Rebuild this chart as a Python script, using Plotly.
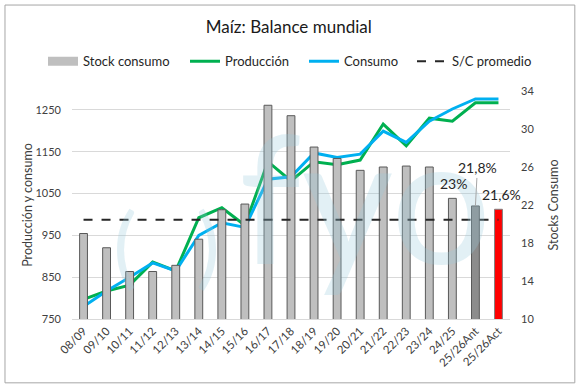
import plotly.graph_objects as go

categories = ["08/09", "09/10", "10/11", "11/12", "12/13", "13/14", "14/15", "15/16",
              "16/17", "17/18", "18/19", "19/20", "20/21", "21/22", "22/23", "23/24",
              "24/25", "25/26Ant", "25/26Act"]
stock_consumo = [19.0, 17.5, 15.0, 15.0, 15.65, 18.4, 21.5, 22.1, 32.5, 31.4, 28.1, 26.9,
                 25.65, 26.0, 26.1, 26.0, 22.7, 21.9, 21.55]
produccion = [797, 817, 831, 886, 865, 992, 1016, 974, 1126, 1080, 1126, 1119, 1130, 1216,
              1164, 1230, 1223, 1267, 1267]
consumo = [780, 817, 850, 884, 865, 950, 980, 969, 1084, 1090, 1147, 1136, 1144, 1199, 1172,
           1223, 1252, 1276, 1276]
sc_promedio = [20.45] * len(categories)

bar_colors = ["#BFBFBF"] * 17 + ["#8C8C8C", "#FF0000"]
bar_lines = ["#595959"] * 18 + ["#7F7F7F"]

FONT = "Lato, Roboto, sans-serif"
WM = "rgba(150,200,220,0.28)"

fig = go.Figure()
fig.add_trace(go.Bar(x=categories, y=stock_consumo, name="Stock consumo", yaxis="y2",
                     marker=dict(color=bar_colors, line=dict(color=bar_lines, width=1)),
                     width=0.34, legendgroup="stock", showlegend=False))
# legend swatch for the bars (wide grey box as in the reference)
fig.add_trace(go.Scatter(x=[None], y=[None], name="Stock consumo", mode="lines",
                         yaxis="y2", legendgroup="stock", legend="legend",
                         line=dict(color="#BFBFBF", width=9)))
fig.add_trace(go.Scatter(x=categories, y=produccion, name="Producción", mode="lines",
                         legend="legend2", line=dict(color="#00B050", width=3)))
fig.add_trace(go.Scatter(x=categories, y=consumo, name="Consumo", mode="lines",
                         legend="legend3", line=dict(color="#00B0F0", width=3)))
fig.add_trace(go.Scatter(x=categories, y=sc_promedio, name="S/C promedio", mode="lines",
                         yaxis="y2", legend="legend4",
                         line=dict(color="#262626", width=2, dash="dash")))

annotations = [
    dict(text="fyo", x=0.669, y=0.544, xref="paper", yref="paper", showarrow=False,
         font=dict(size=178, color=WM, family="Lato"), yanchor="middle", xanchor="center"),
    dict(text="(", x=0.121, y=0.333, xref="paper", yref="paper", showarrow=False,
         font=dict(size=90, color=WM, family="Lato"), yanchor="middle", xanchor="center"),
    dict(text=")", x=0.310, y=0.333, xref="paper", yref="paper", showarrow=False,
         font=dict(size=90, color=WM, family="Lato"), yanchor="middle", xanchor="center"),
    dict(text="23%", x=categories[16], y=stock_consumo[16], yref="y2", showarrow=False,
         yshift=15, xshift=1, font=dict(size=14, color="#262626", family=FONT)),
    dict(text="21,8%", x=categories[17], y=stock_consumo[17], yref="y2", showarrow=True,
         arrowhead=0, arrowwidth=1, arrowcolor="#A6A6A6", ax=2, ay=-38, standoff=0,
         font=dict(size=14, color="#262626", family=FONT)),
    dict(text="21,6%", x=categories[18], y=stock_consumo[18], yref="y2", showarrow=False,
         yshift=15, xshift=3, font=dict(size=14, color="#262626", family=FONT)),
]

PW = 438.0


def lx(px):
    return (px - 72) / PW


def legend_at(px):
    return dict(orientation="h", x=lx(px), xanchor="left", y=1.13, yanchor="middle",
                font=dict(size=13, color="#262626", family=FONT), itemwidth=30,
                bgcolor="rgba(0,0,0,0)", borderwidth=0)


fig.update_layout(
    width=581, height=389,
    margin=dict(l=72, r=71, t=91, b=70, autoexpand=False),
    paper_bgcolor="white", plot_bgcolor="white",
    font=dict(family=FONT, size=12, color="#404040"),
    title=dict(text="Maíz: Balance mundial", x=0.497, xanchor="center", y=0.93, yanchor="middle",
               font=dict(size=17, color="#1a1a1a", family=FONT)),
    showlegend=True,
    legend=legend_at(43),
    legend2=legend_at(185),
    legend3=legend_at(304),
    legend4=legend_at(412),
    xaxis=dict(type="category", tickangle=-45, showgrid=False, showline=True,
               linecolor="#D9D9D9", linewidth=1, ticks="", tickfont=dict(size=11.5),
               range=[-0.5, 18.5], automargin=False),
    yaxis=dict(range=[750, 1295], tickvals=[750, 850, 950, 1050, 1150, 1250],
               showgrid=True, gridcolor="#D9D9D9", zeroline=False, ticks="",
               ticklabelstandoff=10, tickfont=dict(size=11), automargin=False,
               title=dict(text="Producción y consumo", font=dict(size=12.5), standoff=0)),
    yaxis2=dict(range=[10, 34], tickvals=[10, 14, 18, 22, 26, 30, 34], ticksuffix="%",
                overlaying="y", side="right", showgrid=False, zeroline=False, ticks="",
                ticklabelstandoff=10, tickfont=dict(size=11), automargin=False,
                title=dict(text="Stocks Consumo", font=dict(size=12.5), standoff=15)),
    annotations=annotations,
    shapes=[dict(type="rect", xref="paper", yref="paper", x0=-0.153, x1=1.148,
                 y0=-0.28, y1=1.377, line=dict(color="#A6A6A6", width=1), layer="below")],
)

fig.write_html("out.html", config={"displayModeBar": False},
               post_script="document.body.style.margin='0';")
